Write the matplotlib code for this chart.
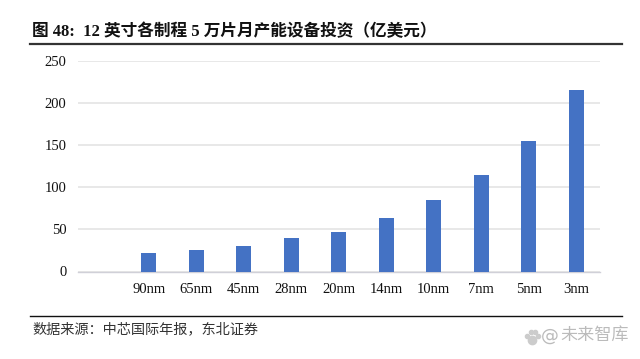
import matplotlib
matplotlib.use('Agg')
import matplotlib.pyplot as plt

plt.rcParams['font.family'] = ['Liberation Serif', 'Noto Sans CJK SC']

categories = ['', '90nm', '65nm', '45nm', '28nm', '20nm', '14nm', '10nm', '7nm', '5nm', '3nm']
values = [0, 21.4, 25, 30.7, 39.6, 47, 63, 85, 114.5, 155.5, 215]
yticks = [0, 50, 100, 150, 200, 250]

title = '图 48:  12 英寸各制程 5 万片月产能设备投资（亿美元）'
source = '数据来源：中芯国际年报，东北证券'
watermark = '未来智库'

W, H = 640, 359
fig = plt.figure(figsize=(W / 100, H / 100), dpi=100)
ax = fig.add_axes([77.5 / W, 1 - 271.5 / H, 522.5 / W, 210.5 / H])

ax.bar(range(len(values)), values, width=0.31, color='#4472C4', zorder=3)
ax.set_xlim(-0.5, 10.5)
ax.set_ylim(0, 250)
ax.set_yticks(yticks)
ax.set_xticks(range(len(categories)))
ax.set_xticklabels(categories)
ax.tick_params(length=0, labelsize=10.5, colors='#111111')
ax.tick_params(axis='x', pad=8)
ax.tick_params(axis='y', pad=8)
ax.grid(axis='y', color='#E2E2E2', linewidth=1.1, zorder=0)
for s in ['top', 'right', 'left']:
    ax.spines[s].set_visible(False)
ax.spines['bottom'].set_color('#D0D0D8')
ax.spines['bottom'].set_linewidth(1.0)

# text and rules around the chart, in figure pixels
fig.text(32 / W, 1 - 32 / H, title, fontsize=12, fontweight='bold', color='#111111', va='center')
fig.add_artist(plt.Line2D([30 / W, 622 / W], [1 - 43.5 / H] * 2, color='#333333', linewidth=1.6))
fig.add_artist(plt.Line2D([30 / W, 622 / W], [1 - 316 / H] * 2, color='#111111', linewidth=1.0))
fig.text(32 / W, 1 - 329 / H, source, fontsize=10.2, color='#333333', va='center')

# watermark: paw, @ and name
pawx = [527, 531, 535, 538, 532]
pawy = [336, 332, 332, 336, 340]
pawsize = [3, 3, 3, 3, 6]
for px, py, ps in zip(pawx, pawy, pawsize):
    fig.add_artist(plt.Line2D([px / W], [1 - py / H], marker='o', markersize=ps, color='#CCCCCC', linestyle='none'))
fig.text(541 / W, 1 - 336 / H, '@', fontsize=13, color='#BBBBBB', va='center', family=['DejaVu Sans'])
fig.text(560 / W, 1 - 336 / H, watermark, fontsize=12.3, color='#BBBBBB', va='center')

fig.savefig('out.png', dpi=100)
